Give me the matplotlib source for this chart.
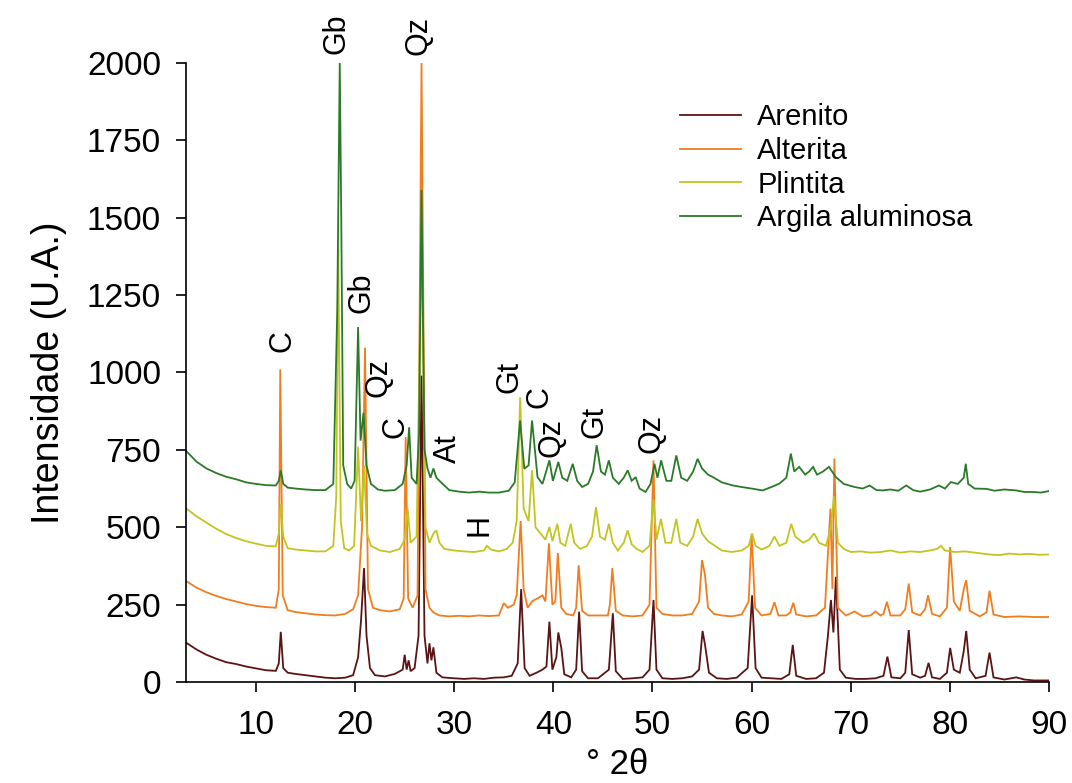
import matplotlib
matplotlib.use('Agg')
import matplotlib.pyplot as plt
import numpy as np

plt.rcParams['font.family'] = ['Liberation Sans', 'DejaVu Sans']

# ---------------- data ----------------
series_names = ['Arenito', 'Alterita', 'Plintita', 'Argila aluminosa']
series_colors = ['#5a1414', '#f07d1e', '#c4c421', '#2a7a28']

arenito = [(3.0, 126), (4, 105), (5, 88), (6, 75), (7, 64), (8, 58), (9, 50), (10, 44), (11, 38),
           (12.0, 36), (12.3, 60), (12.5, 162), (12.75, 45), (13.2, 30), (14, 26), (15, 22), (16, 18),
           (17, 14), (18, 12), (19, 14), (19.8, 22), (20.3, 80), (20.6, 200), (20.9, 368), (21.15, 150),
           (21.5, 45), (22, 22), (23, 18), (24, 26), (24.8, 40), (25.0, 88), (25.2, 40), (25.4, 70),
           (25.6, 35), (26.0, 45), (26.4, 150), (26.7, 990), (27.0, 150), (27.3, 60), (27.5, 125),
           (27.7, 70), (27.9, 112), (28.2, 30), (28.8, 15), (30, 12), (31, 10), (32, 12), (33, 10),
           (34, 14), (35, 15), (35.8, 20), (36.4, 60), (36.75, 300), (37.1, 45), (37.6, 20), (38.3, 30),
           (38.9, 40), (39.3, 50), (39.6, 195), (39.9, 40), (40.3, 80), (40.5, 160), (40.8, 110),
           (41.1, 25), (41.8, 15), (42.3, 40), (42.6, 227), (42.9, 35), (43.5, 12), (44.5, 12),
           (45.6, 40), (46.0, 222), (46.3, 35), (47, 10), (48, 12), (49, 15), (49.7, 40), (50.1, 265),
           (50.4, 40), (51, 12), (52, 10), (53, 12), (54, 18), (54.7, 40), (55.05, 165), (55.3, 120),
           (55.7, 30), (56.5, 12), (57.5, 10), (58.5, 14), (59.6, 45), (60.05, 280), (60.4, 45),
           (61, 14), (62, 12), (63, 10), (63.8, 25), (64.15, 120), (64.5, 20), (65.5, 10), (66.5, 12),
           (67.3, 30), (67.7, 150), (68.0, 265), (68.25, 160), (68.5, 340), (68.9, 40), (69.5, 14),
           (70.5, 10), (71.5, 10), (72.5, 12), (73.3, 20), (73.7, 82), (74.1, 15), (75, 12), (75.5, 30),
           (75.85, 168), (76.2, 25), (77, 14), (77.5, 20), (77.85, 62), (78.2, 15), (79, 10),
           (79.7, 30), (80.03, 110), (80.4, 40), (81.0, 30), (81.4, 100), (81.65, 165), (82.0, 40),
           (82.6, 12), (83.6, 20), (84.0, 95), (84.4, 15), (85.5, 8), (86.7, 15), (87.5, 8),
           (88.5, 5), (90, 5)]

alterita = [(3.0, 325), (4, 305), (5, 290), (6, 278), (7, 268), (8, 260), (9, 252), (10, 246),
            (11, 242), (12.0, 240), (12.3, 300), (12.45, 1010), (12.7, 280), (13.2, 232), (14, 226),
            (15, 222), (16, 218), (17, 216), (18, 215), (19, 220), (19.8, 235), (20.3, 280),
            (20.7, 500), (21.0, 1080), (21.3, 300), (21.8, 240), (22.5, 232), (23.5, 228),
            (24.5, 235), (24.9, 270), (25.1, 791), (25.35, 270), (25.8, 240), (26.3, 280),
            (26.7, 2000), (27.1, 300), (27.5, 240), (27.9, 225), (28.5, 215), (29.5, 212),
            (30.5, 214), (31.5, 212), (32.5, 215), (33.5, 213), (34.5, 215), (35.0, 255), (35.4, 240),
            (36.0, 250), (36.3, 280), (36.7, 520), (37.0, 300), (37.4, 240), (37.9, 262), (38.4, 270),
            (38.9, 280), (39.2, 260), (39.55, 448), (39.9, 250), (40.2, 260), (40.45, 417),
            (40.8, 240), (41.3, 220), (42.0, 215), (42.3, 240), (42.55, 377), (42.9, 230),
            (43.5, 215), (44.5, 215), (45.5, 215), (45.7, 250), (45.95, 368), (46.3, 230), (47, 215),
            (48, 212), (49, 215), (49.7, 250), (50.1, 716), (50.4, 240), (51, 220), (52, 215),
            (53, 215), (54, 220), (54.7, 260), (55.0, 394), (55.3, 345), (55.6, 240), (56.2, 220),
            (57, 215), (58, 212), (59, 218), (59.7, 260), (60.0, 478), (60.35, 240), (61, 215),
            (61.9, 220), (62.3, 258), (62.7, 215), (63.5, 215), (63.9, 225), (64.2, 256), (64.5, 218),
            (65.5, 212), (66.5, 215), (67.4, 240), (67.95, 560), (68.15, 300), (68.35, 722),
            (68.7, 240), (69.5, 215), (70.4, 228), (71.2, 212), (72.0, 215), (72.5, 228), (73.0, 215),
            (73.3, 220), (73.65, 259), (74.0, 215), (75.0, 215), (75.5, 235), (75.85, 318),
            (76.2, 225), (77.0, 215), (77.5, 235), (77.8, 280), (78.2, 220), (79.0, 212), (79.7, 240),
            (80.03, 436), (80.4, 260), (81.0, 230), (81.4, 300), (81.65, 329), (82.0, 230),
            (83.0, 212), (83.7, 225), (84.0, 295), (84.4, 218), (85.5, 210), (87, 212), (88.5, 210),
            (90, 210)]

plintita = [(3.0, 560), (4, 535), (5, 515), (6, 495), (7, 478), (8, 465), (9, 455), (10, 447),
            (11, 440), (12.0, 438), (12.3, 480), (12.5, 575), (12.75, 470), (13.2, 432), (14, 428),
            (15, 425), (16, 422), (17, 422), (17.8, 440), (18.1, 600), (18.3, 1400), (18.55, 520),
            (18.9, 432), (19.4, 425), (19.9, 440), (20.3, 760), (20.6, 520), (20.9, 700), (21.2, 480),
            (21.6, 440), (22.5, 425), (23.5, 420), (24.5, 430), (25.0, 460), (25.3, 560), (25.6, 450),
            (26.2, 470), (26.7, 1450), (27.1, 500), (27.5, 450), (27.9, 480), (28.2, 490), (28.5, 450),
            (29, 430), (30, 425), (31, 422), (32, 420), (33, 425), (33.3, 440), (33.7, 428),
            (34.5, 422), (35.3, 430), (35.9, 450), (36.3, 520), (36.65, 920), (37.0, 560), (37.5, 520),
            (37.85, 684), (38.2, 500), (38.7, 480), (39.2, 460), (39.6, 501), (39.9, 455), (40.4, 511),
            (40.7, 450), (41.2, 440), (41.75, 511), (42.1, 450), (42.7, 430), (43.4, 440), (43.9, 470),
            (44.3, 565), (44.7, 470), (45.2, 460), (45.6, 511), (46.0, 450), (46.5, 425), (47.1, 450),
            (47.5, 490), (47.9, 445), (48.4, 430), (49.0, 420), (49.7, 440), (50.1, 590), (50.4, 460),
            (50.85, 527), (51.3, 450), (51.9, 450), (52.4, 527), (52.8, 450), (53.5, 440), (54.1, 470),
            (54.55, 527), (55.0, 480), (55.6, 455), (56.3, 440), (57, 425), (58, 420), (59, 425),
            (59.7, 440), (60.05, 480), (60.4, 440), (61, 428), (61.8, 440), (62.3, 470), (62.8, 440),
            (63.5, 450), (64.0, 511), (64.4, 470), (65.2, 450), (65.8, 460), (66.3, 480), (66.8, 450),
            (67.5, 440), (68.0, 500), (68.3, 600), (68.7, 450), (69.3, 430), (70.0, 420), (71, 422),
            (72, 418), (73, 420), (74, 425), (75, 418), (76, 422), (77, 420), (78, 425), (78.7, 430),
            (79.1, 440), (79.5, 425), (80.5, 420), (81.5, 422), (82.5, 418), (84, 412), (85, 410),
            (86, 415), (87, 412), (88, 414), (89, 411), (90, 412)]

argila = [(3.0, 745), (4, 712), (5, 690), (6, 675), (7, 663), (8, 655), (9, 645), (10, 640),
          (11, 636), (12.0, 635), (12.3, 650), (12.5, 684), (12.75, 640), (13.2, 628), (14, 625),
          (15, 622), (16, 620), (17, 620), (17.8, 640), (18.2, 1200), (18.45, 2000), (18.6, 1510),
          (18.8, 700), (19.2, 640), (19.6, 625), (19.95, 650), (20.3, 1147), (20.55, 780),
          (20.85, 870), (21.15, 700), (21.6, 640), (22.3, 622), (23, 618), (24, 620), (24.8, 640),
          (25.2, 700), (25.45, 823), (25.7, 660), (26.2, 640), (26.45, 800), (26.7, 1590),
          (27.0, 750), (27.3, 690), (27.6, 660), (27.9, 690), (28.2, 660), (28.8, 641), (29.5, 620),
          (30.5, 615), (31.5, 612), (32.5, 615), (33.5, 612), (34.5, 612), (35.5, 618), (36.1, 645),
          (36.64, 845), (37.07, 689), (37.5, 700), (37.85, 845), (38.4, 662), (38.9, 640),
          (39.6, 716), (39.95, 650), (40.5, 711), (40.9, 660), (41.4, 650), (41.95, 705), (42.4, 650),
          (42.9, 630), (43.5, 640), (44.0, 680), (44.37, 765), (44.8, 680), (45.2, 670), (45.6, 716),
          (46.0, 660), (46.6, 640), (47.1, 660), (47.5, 684), (47.9, 650), (48.3, 662), (48.7, 625),
          (49.3, 614), (49.8, 640), (50.2, 705), (50.5, 660), (50.87, 716), (51.4, 650), (51.9, 650),
          (52.4, 732), (52.9, 660), (53.5, 650), (54.1, 680), (54.55, 721), (55.0, 690), (55.6, 670),
          (56.1, 662), (57, 645), (58.1, 635), (59, 630), (60, 625), (61.1, 619), (62, 630),
          (62.8, 641), (63.5, 660), (63.96, 738), (64.3, 680), (64.8, 695), (65.4, 670), (65.8, 680),
          (66.2, 695), (66.6, 670), (67.2, 680), (67.8, 695), (68.5, 662), (69.3, 640), (70.4, 630),
          (71.2, 625), (71.9, 635), (72.6, 620), (73.2, 619), (74, 622), (74.8, 618), (75.6, 635),
          (76.3, 620), (77, 615), (78, 622), (78.9, 635), (79.5, 625), (80.1, 646), (80.8, 640),
          (81.4, 660), (81.6, 705), (81.85, 640), (82.5, 625), (83.7, 624), (84.5, 618), (85.5, 622),
          (86.7, 619), (87.5, 614), (88.4, 614), (89.2, 612), (90, 617)]

# mineral labels: (text, 2theta, intensity)
label_texts = ['C', 'Gb', 'Qz', 'Gb', 'Qz', 'C', 'At', 'H', 'Gt', 'C', 'Qz', 'Gt', 'Qz']
label_x = [12.7, 18.15, 26.35, 20.6, 22.4, 24.1, 29.35, 32.5, 35.55, 38.6, 39.8, 44.1, 49.9]
label_y = [1103, 2095, 2090, 1259, 985, 823, 753, 506, 985, 920, 790, 840, 802]

x_ticks = [10, 20, 30, 40, 50, 60, 70, 80, 90]
y_ticks = [0, 250, 500, 750, 1000, 1250, 1500, 1750, 2000]

# ---------------- figure ----------------
W, H = 1072, 783
fig = plt.figure(figsize=(W / 100, H / 100), dpi=100)
ax = fig.add_axes([186 / W, 1 - 682 / H, (1049 - 186) / W, (682 - 63) / H])

for name, col, data in zip(series_names, series_colors, [arenito, alterita, plintita, argila]):
    arr = np.array(data, dtype=float)
    ax.plot(arr[:, 0], arr[:, 1], color=col, lw=1.3, label=name, solid_joinstyle='miter')

ax.set_xlim(2.94, 90)
ax.set_ylim(0, 2000)
ax.set_xticks(x_ticks)
ax.set_yticks(y_ticks)
ax.tick_params(axis='both', direction='out', length=7, width=1.2, labelsize=24, colors='black')
ax.tick_params(axis='x', pad=13)
ax.tick_params(axis='y', pad=11)
for s in ['top', 'right']:
    ax.spines[s].set_visible(False)
for s in ['left', 'bottom']:
    ax.spines[s].set_linewidth(1.2)

ax.set_xlabel('° 2θ', fontsize=25, labelpad=5)
ax.set_ylabel('Intensidade (U.A.)', fontsize=27, labelpad=14)

for t, xx, yy in zip(label_texts, label_x, label_y):
    ax.text(xx, yy, t, rotation=90, ha='center', va='center', fontsize=22, clip_on=False)

leg = ax.legend(loc='upper left', bbox_to_anchor=(680 / W, 1 - 103 / H),
                bbox_transform=fig.transFigure, frameon=False, fontsize=21,
                handlelength=2.1, handletextpad=0.55, labelspacing=0.2,
                borderpad=0, borderaxespad=0)
for h in leg.get_lines():
    h.set_linewidth(1.3)

fig.savefig('out.png', dpi=100)
